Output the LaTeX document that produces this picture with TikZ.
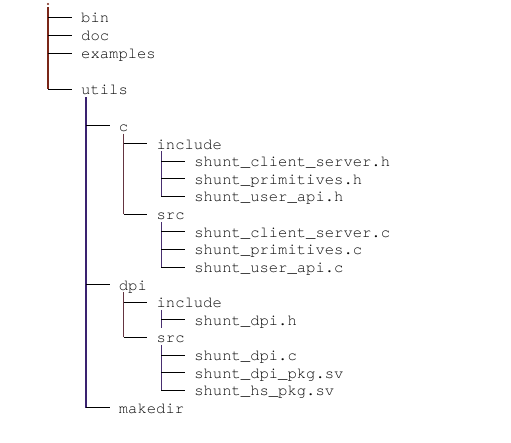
\documentclass[tikz,border=0pt]{standalone}
\usepackage{fontspec}
\setmonofont{TeX Gyre Cursor}

\definecolor{trunkA}{RGB}{122,38,24}
\definecolor{trunkB}{RGB}{58,34,112}
\definecolor{trunkC}{RGB}{100,52,64}
\definecolor{trunkD}{RGB}{72,46,112}
\definecolor{fname}{RGB}{10,10,10}

\tikzset{entry/.style={anchor=base west, inner xsep=9bp, inner ysep=0pt,
    text height=13bp, text depth=2bp, text=fname,
    font=\ttfamily\fontsize{15.6}{17.6}\selectfont},
  twig/.style={line width=1bp, black},
  trunk/.style={line width=1.4bp}}

\begin{document}
\begin{tikzpicture}[x=1bp,y=-1bp]
  \useasboundingbox (0,0) rectangle (511,443);
  \newcommand{\putEntry}[4]{ \node[entry] (#1) at ({72+37.7*(#2-1)},{#3+5.5}) {#4}; }
  \newcommand{\drawBranch}[4]{ \draw[trunk,#2] (#1) -- (#1 |- #3);
    \foreach \ch in {#4} { \draw[twig] (#1 |- \ch.west) -- (\ch.west); } }
  \putEntry{bin}{1}{17.5}{bin}
  \putEntry{doc}{1}{35.3}{doc}
  \putEntry{examples}{1}{53.1}{examples}
  \putEntry{utils}{1}{89.5}{utils}
  \putEntry{cdir}{2}{126.0}{c}
  \putEntry{cinc}{3}{143.6}{include}
  \putEntry{cinca}{4}{161.2}{shunt\_client\_server.h}
  \putEntry{cincb}{4}{178.9}{shunt\_primitives.h}
  \putEntry{cincc}{4}{196.5}{shunt\_user\_api.h}
  \putEntry{csrc}{3}{214.1}{src}
  \putEntry{csrca}{4}{231.7}{shunt\_client\_server.c}
  \putEntry{csrcb}{4}{249.3}{shunt\_primitives.c}
  \putEntry{csrcc}{4}{267.0}{shunt\_user\_api.c}
  \putEntry{dpi}{2}{284.6}{dpi}
  \putEntry{dinc}{3}{302.2}{include}
  \putEntry{dinca}{4}{319.8}{shunt\_dpi.h}
  \putEntry{dsrc}{3}{337.4}{src}
  \putEntry{dsrca}{4}{355.1}{shunt\_dpi.c}
  \putEntry{dsrcb}{4}{372.7}{shunt\_dpi\_pkg.sv}
  \putEntry{dsrcc}{4}{390.3}{shunt\_hs\_pkg.sv}
  \putEntry{makedir}{2}{407.9}{makedir}
  % trunks start just under the parent's name
  \coordinate (root) at (48,7);
  \foreach \p in {utils,cdir,cinc,csrc,dpi,dinc,dsrc}
    \coordinate (\p-t) at ([xshift=14bp]\p.south west);
  \coordinate (dinc-e) at ([yshift=-8bp]dinca.west);
  \fill[trunkA] ([yshift=3bp]root) circle (1.1bp);
  \drawBranch{root}{trunkA}{utils.west}{bin,doc,examples,utils}
  \drawBranch{utils-t}{trunkB}{makedir.west}{cdir,dpi,makedir}
  \drawBranch{cdir-t}{trunkC}{csrc.west}{cinc,csrc}
  \drawBranch{cinc-t}{trunkD}{cincc.west}{cinca,cincb,cincc}
  \drawBranch{csrc-t}{trunkD}{csrcc.west}{csrca,csrcb,csrcc}
  \drawBranch{dpi-t}{trunkC}{dsrc.west}{dinc,dsrc}
  \drawBranch{dinc-t}{trunkD}{dinc-e}{dinca}
  \drawBranch{dsrc-t}{trunkD}{dsrcc.west}{dsrca,dsrcb,dsrcc}
\end{tikzpicture}
\end{document}
